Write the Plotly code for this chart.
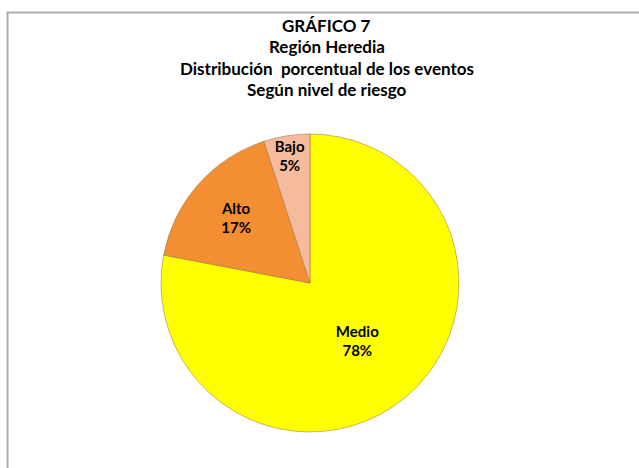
import plotly.graph_objects as go

labels = ["Medio", "Alto", "Bajo"]
values = [78, 17, 5]
colors = ["#FFFF00", "#F38E33", "#F5BB9C"]
title_lines = ["GRÁFICO 7", "Región Heredia", "Distribución  porcentual de los eventos", "Según nivel de riesgo"]

W, H = 639, 468
cx, cy, r = 310, 283, 149
FONT = "Lato, Carlito, sans-serif"

fig = go.Figure(go.Pie(
    labels=labels, values=values, sort=False, direction="clockwise", rotation=0,
    marker=dict(colors=colors, line=dict(color="rgba(160,120,60,0.55)", width=1)),
    texttemplate="<b>%{label}</b><br><b>%{percent:.0%}</b>", textinfo="text",
    textposition="inside", insidetextorientation="horizontal",
    textfont=dict(family=FONT, size=15, color="#000000"),
    showlegend=False, hoverinfo="label+percent",
    domain=dict(x=[(cx - r) / W, (cx + r) / W], y=[(H - cy - r) / H, (H - cy + r) / H]),
))

fig.add_shape(type="rect", xref="paper", yref="paper", x0=7.5 / W, x1=1.1, y0=-0.1, y1=(H - 12.5) / H,
              line=dict(color="#ADADAD", width=2), fillcolor="rgba(0,0,0,0)")

title_y = [25, 46.5, 68, 90]
for t, ty in zip(title_lines, title_y):
    fig.add_annotation(text="<b>" + t + "</b>", xref="paper", yref="paper",
                       x=327 / W, y=(H - ty) / H, showarrow=False,
                       xanchor="center", yanchor="middle",
                       font=dict(family=FONT, size=17, color="#000000"))

fig.update_layout(width=W, height=H, margin=dict(l=0, r=0, t=0, b=0),
                  paper_bgcolor="white", plot_bgcolor="white",
                  uniformtext=dict(minsize=15, mode="show"))
fig.write_html("out.html", config={"displayModeBar": False},
               post_script="document.body.style.margin='0';")
